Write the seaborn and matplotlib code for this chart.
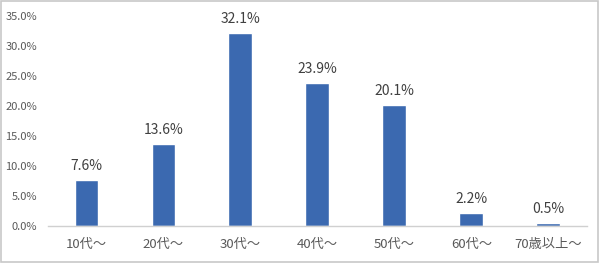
import matplotlib
matplotlib.use("Agg")
import matplotlib.pyplot as plt
import seaborn as sns
import pandas as pd
from matplotlib.patches import Rectangle

categories = ["10代～", "20代～", "30代～", "40代～", "50代～", "60代～", "70歳以上～"]
values = [7.6, 13.6, 32.1, 23.9, 20.1, 2.2, 0.5]
yticks = [0, 5, 10, 15, 20, 25, 30, 35]

sns.set_theme(style="white")
plt.rcParams['font.family'] = ['Noto Sans CJK JP', 'DejaVu Sans']

df = pd.DataFrame({"cat": categories, "val": values})

fig = plt.figure(figsize=(6, 2.63), dpi=100)
ax = fig.add_axes([0.08, 0.141, 0.898, 0.798])
sns.barplot(data=df, x="cat", y="val", color="#3b69b0", saturation=1, width=0.31, ax=ax)

ax.set_ylim(0, 35)
ax.set_yticks(yticks)
ax.set_yticklabels([f"{t:.1f}%" for t in yticks], fontsize=8, color="#595959")
ax.set_xlim(-0.5, len(categories) - 0.5)
ax.tick_params(axis="x", labelsize=9.5, colors="#595959", length=0, pad=9)
ax.tick_params(axis="y", length=0, pad=8)
ax.set_xlabel("")
ax.set_ylabel("")
for s in ["top", "right", "left"]:
    ax.spines[s].set_visible(False)
ax.spines["bottom"].set_color("#d0d0d0")
ax.spines["bottom"].set_linewidth(1)

for i, v in enumerate(values):
    ax.annotate(f"{v:.1f}%", (i, v), xytext=(0, 5), textcoords="offset points",
                ha="center", va="bottom", fontsize=10, color="#404040")

fig.patches.append(Rectangle((0.002, 0.003), 0.995, 0.993, transform=fig.transFigure,
                             fill=False, edgecolor="#c8c8c8", linewidth=1.2))

fig.savefig("out.png", dpi=100)
